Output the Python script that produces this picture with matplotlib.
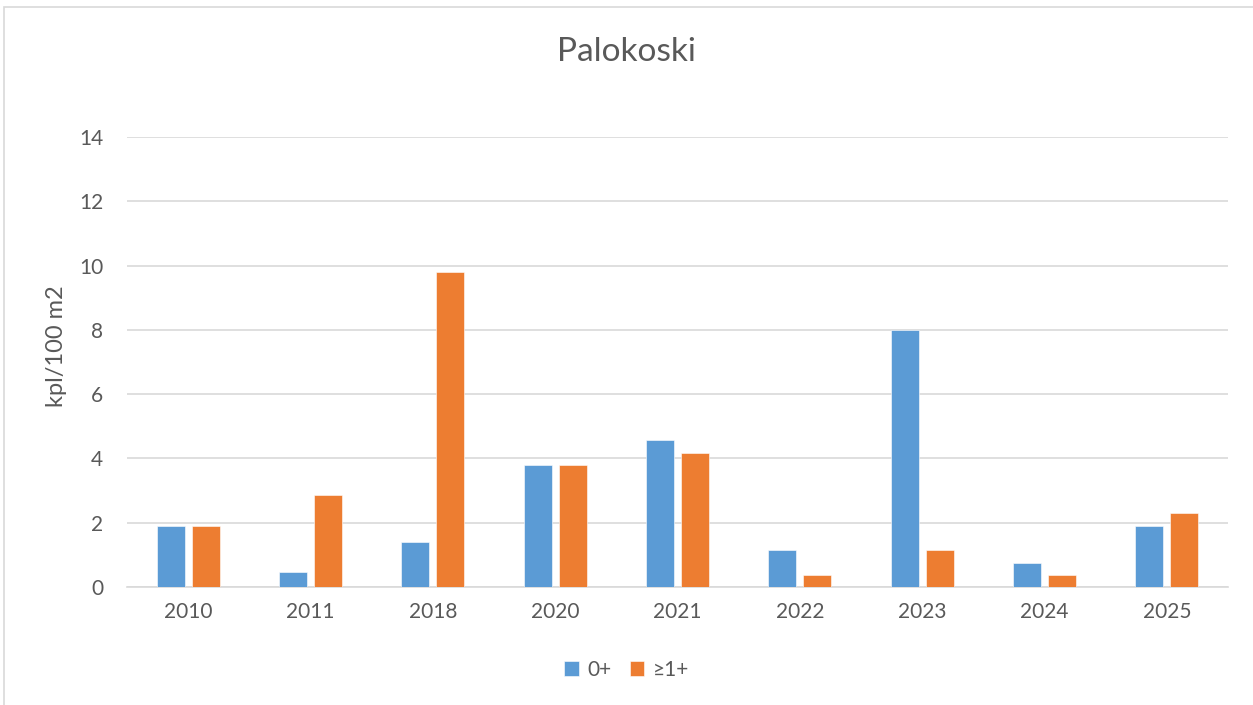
import matplotlib
matplotlib.use("Agg")
import matplotlib.pyplot as plt
from matplotlib.patches import Rectangle
import numpy as np

years = ["2010", "2011", "2018", "2020", "2021", "2022", "2023", "2024", "2025"]
s0 = [1.89, 0.47, 1.39, 3.81, 4.57, 1.14, 8.01, 0.75, 1.90]
s1 = [1.89, 2.86, 9.81, 3.81, 4.18, 0.37, 1.14, 0.37, 2.29]
series_names = ["0+", "≥1+"]
yticks = [0, 2, 4, 6, 8, 10, 12, 14]

plt.rcParams['font.family'] = ['Lato', 'DejaVu Sans']
txt = '#595959'

W, H = 1253, 705
fig = plt.figure(figsize=(W / 100, H / 100), dpi=100)
ax = fig.add_axes([127 / W, (H - 587) / H, (1228 - 127) / W, (587 - 137) / H])

x = np.arange(len(years))
bw = 0.229
off = 0.143
ax.bar(x - off, s0, bw, color='#5B9BD5', edgecolor='white', linewidth=0.4, label=series_names[0], zorder=3)
ax.bar(x + off, s1, bw, color='#ED7D31', edgecolor='white', linewidth=0.4, label=series_names[1], zorder=3)

ax.set_xlim(-0.5, len(years) - 0.5)
ax.set_ylim(0, 14)
ax.set_yticks(yticks)
ax.set_yticklabels([str(v) for v in yticks])
ax.set_xticks(x)
ax.set_xticklabels(years)
ax.grid(axis='y', color='#D9D9D9', linewidth=1.2, zorder=0)
for s in ['top', 'right', 'left']:
    ax.spines[s].set_visible(False)
ax.spines['bottom'].set_color('#D9D9D9')
ax.spines['bottom'].set_linewidth(1.2)
ax.tick_params(axis='both', length=0, labelsize=15, colors=txt)
ax.tick_params(axis='y', pad=17)
ax.tick_params(axis='x', pad=11)

ax.set_ylabel("kpl/100 m2", fontsize=17, color=txt)
ax.yaxis.set_label_coords((67 - 127) / (1228 - 127), 0.535)
fig.text(0.5, (H - 52) / H, "Palokoski", ha='center', va='center', fontsize=24, color=txt)

fig.legend(loc='center', bbox_to_anchor=(0.5, (H - 670) / H), ncol=2, frameon=False,
           fontsize=15, labelcolor=txt, handlelength=0.7, handleheight=0.7,
           handletextpad=0.4, columnspacing=0.9)

fig.patches.append(Rectangle((4 / W, -0.05), 1.1, (H - 7) / H + 0.05, transform=fig.transFigure,
                             fill=False, edgecolor='#D9D9D9', linewidth=1.2))

fig.savefig("out.png", dpi=100)
